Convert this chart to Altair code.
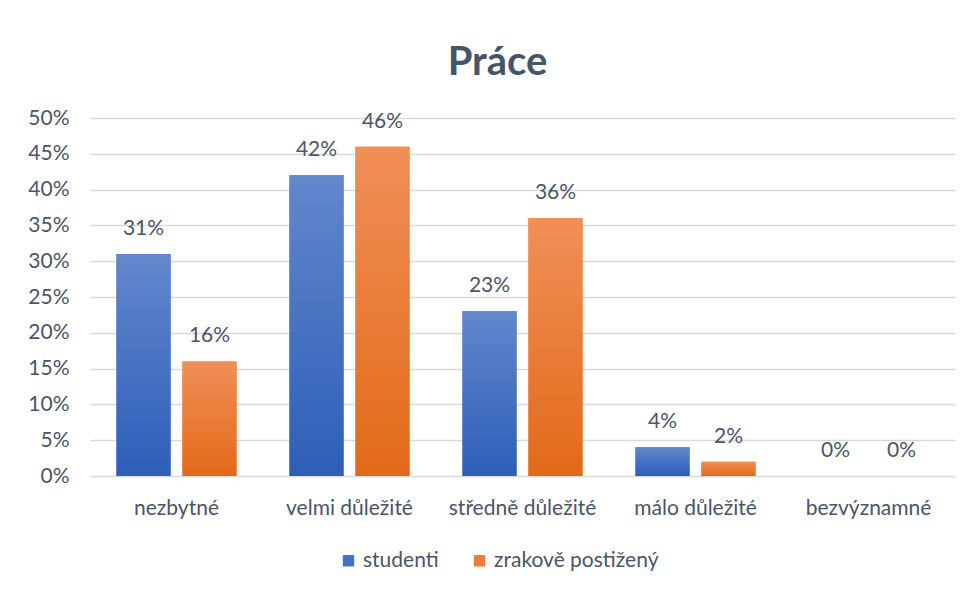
import altair as alt
import pandas as pd

kategorie = ["nezbytné", "velmi důležité", "středně důležité", "málo důležité", "bezvýznamné"]
skupiny = ["studenti", "zrakově postižený"]
studenti = [0.31, 0.42, 0.23, 0.04, 0.00]
zrakove = [0.16, 0.46, 0.36, 0.02, 0.00]
y_ticks = [0, 0.05, 0.10, 0.15, 0.20, 0.25, 0.30, 0.35, 0.40, 0.45, 0.50]

rows = []
for k, a, b in zip(kategorie, studenti, zrakove):
    rows.append({"kat": k, "skupina": skupiny[0], "hodnota": a})
    rows.append({"kat": k, "skupina": skupiny[1], "hodnota": b})
df = pd.DataFrame(rows)

FONT = "Lato"
TXT = "#4A5568"
FS = 21

x_enc = alt.X("kat:N", sort=kategorie, title=None,
              scale=alt.Scale(paddingInner=0.306, paddingOuter=0.153),
              axis=alt.Axis(labelAngle=0, labelFontSize=FS, labelColor=TXT, labelFont=FONT,
                            domain=False, ticks=False, labelPadding=21))
xo_enc = alt.XOffset("skupina:N", sort=skupiny, scale=alt.Scale(paddingInner=0.18))
y_enc = alt.Y("hodnota:Q", title=None, scale=alt.Scale(domain=[0, 0.5], nice=False),
              axis=alt.Axis(values=y_ticks, format=".0%", labelFontSize=FS, labelColor=TXT,
                            labelFont=FONT, domain=False, ticks=False, labelPadding=21,
                            gridColor="#D9D9D9", gridWidth=1.5))

base = alt.Chart(df).encode(x=x_enc, xOffset=xo_enc, y=y_enc)

bars = base.mark_bar().encode(
    color=alt.Color("skupina:N", sort=skupiny,
                    scale=alt.Scale(domain=skupiny, range=["#4472C4", "#ED7D31"]),
                    legend=alt.Legend(title=None, orient="none", direction="horizontal",
                                      legendX=248, legendY=432, symbolType="square",
                                      symbolSize=130, symbolStrokeWidth=0,
                                      labelFontSize=FS, labelColor=TXT, labelFont=FONT,
                                      labelLimit=400, columnPadding=30, labelOffset=4))
)


def grad(top, bottom):
    return alt.LinearGradient(gradient="linear",
                              stops=[alt.GradientStop(color=top, offset=0),
                                     alt.GradientStop(color=bottom, offset=1)],
                              x1=1, x2=1, y1=0, y2=1)


g1 = base.transform_filter(alt.datum.skupina == skupiny[0]).mark_bar(
    color=grad("#6287CC", "#2D5EB8"))
g2 = base.transform_filter(alt.datum.skupina == skupiny[1]).mark_bar(
    color=grad("#F08F58", "#E26A19"))

labels = base.mark_text(baseline="bottom", dy=-15, fontSize=FS, color=TXT, font=FONT).encode(
    text=alt.Text("hodnota:Q", format=".0%"))

chart = alt.layer(bars, g1, g2, labels).properties(
    width=865, height=358,
    autosize=alt.AutoSizeParams(type="none"),
    padding={"left": 82, "top": 110, "right": 6, "bottom": 100},
    title=alt.Title("Práce", fontSize=40, font=FONT, fontWeight="bold", color="#44546A",
                    anchor="middle", dx=-25, offset=24),
).configure_view(stroke=None)

chart.save("out.html", embed_options={"renderer": "svg", "actions": False})
